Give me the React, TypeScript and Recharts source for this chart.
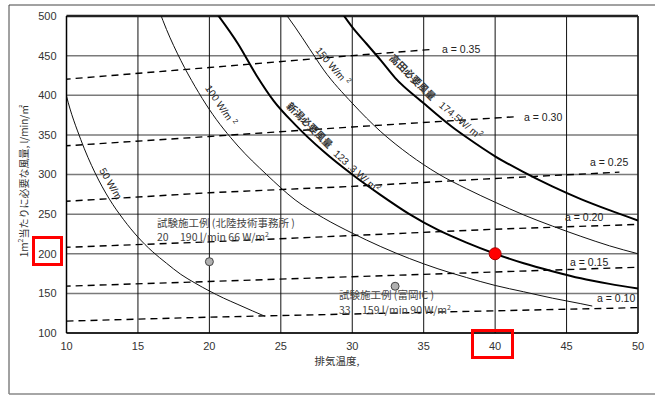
import React from 'react';
import { ComposedChart, Line, Scatter, XAxis, YAxis, CartesianGrid, ReferenceLine } from 'recharts';

const xTicks = [10, 15, 20, 25, 30, 35, 40, 45, 50];
const yTicks = [100, 150, 200, 250, 300, 350, 400, 450, 500];

// W/m2 curves (exhaust temp x, airflow y)
const w50 = [
  { x: 9.7, y: 422 }, { x: 10, y: 399 }, { x: 11, y: 344 }, { x: 12, y: 302 }, { x: 13, y: 269 },
  { x: 14, y: 243 }, { x: 15, y: 221 }, { x: 16, y: 203 }, { x: 17, y: 188 }, { x: 18, y: 174 },
  { x: 19, y: 163 }, { x: 20, y: 153 }, { x: 21, y: 144 }, { x: 22, y: 136 }, { x: 23, y: 128 },
  { x: 23.9, y: 121 },
];
const w100 = [
  { x: 16.5, y: 506 }, { x: 17, y: 483 }, { x: 18, y: 444 }, { x: 19, y: 411 }, { x: 20, y: 382 },
  { x: 22, y: 336 }, { x: 24, y: 300 }, { x: 26, y: 268 }, { x: 28, y: 245 }, { x: 30, y: 226 },
  { x: 32, y: 209 }, { x: 34, y: 194 }, { x: 36, y: 181 }, { x: 38, y: 170 }, { x: 40, y: 160 },
  { x: 42, y: 152 }, { x: 44, y: 144 }, { x: 46, y: 137 }, { x: 46.8, y: 134 },
];
const w150 = [
  { x: 25.2, y: 506 }, { x: 26, y: 486 }, { x: 27, y: 459 }, { x: 28, y: 432 }, { x: 30, y: 390 },
  { x: 32, y: 354 }, { x: 34, y: 325 }, { x: 36, y: 301 }, { x: 38, y: 282 }, { x: 40, y: 265 },
  { x: 42, y: 249 }, { x: 44, y: 235 }, { x: 46, y: 222 }, { x: 48, y: 210 }, { x: 50, y: 200 },
];
const w123 = [
  { x: 20.4, y: 506 }, { x: 22, y: 465 }, { x: 23.3, y: 425 }, { x: 24.5, y: 393 }, { x: 26, y: 363 },
  { x: 28, y: 329 }, { x: 30, y: 300 }, { x: 32, y: 274 }, { x: 34, y: 250 }, { x: 36, y: 230 },
  { x: 38, y: 214 }, { x: 40, y: 200 }, { x: 42, y: 188 }, { x: 44, y: 178 }, { x: 46, y: 169 },
  { x: 48, y: 162 }, { x: 50, y: 156 },
];
const w174 = [
  { x: 29.2, y: 506 }, { x: 30, y: 486 }, { x: 31, y: 465 }, { x: 32, y: 444 }, { x: 33, y: 422 },
  { x: 35, y: 390 }, { x: 37, y: 360 }, { x: 38, y: 347 }, { x: 40, y: 323 }, { x: 42, y: 303 },
  { x: 44, y: 285 }, { x: 46, y: 269 }, { x: 48, y: 255 }, { x: 50, y: 242 },
];

// a = const dashed lines
const a35 = [{ x: 9.8, y: 420 }, { x: 20, y: 435 }, { x: 30, y: 450 }, { x: 35.7, y: 458 }];
const a30 = [{ x: 9.8, y: 336 }, { x: 20, y: 348 }, { x: 30, y: 360 }, { x: 41.5, y: 373 }];
const a25 = [{ x: 9.8, y: 266 }, { x: 20, y: 277 }, { x: 30, y: 285 }, { x: 40, y: 295 }, { x: 48.7, y: 303 }];
const a20 = [{ x: 9.8, y: 208 }, { x: 20, y: 215 }, { x: 30, y: 223 }, { x: 40, y: 231 }, { x: 50, y: 237 }];
const a15 = [{ x: 9.8, y: 159 }, { x: 20, y: 165 }, { x: 30, y: 171 }, { x: 40, y: 177 }, { x: 50, y: 183 }];
const a10 = [{ x: 10, y: 115 }, { x: 20, y: 120 }, { x: 30, y: 124 }, { x: 40, y: 128 }, { x: 50, y: 132 }];

const testPoints = [{ x: 20, y: 190 }, { x: 33, y: 159 }];
const target = [{ x: 40, y: 200 }];

const tickStyle = { fill: '#333', fontSize: 11, fontFamily: 'Liberation Sans, Arial, sans-serif' };
const jp = '"Noto Sans CJK JP", sans-serif';
const lat = 'Liberation Sans, Arial, sans-serif';

const Rot = ({ x, y, a, size = 10, fill = '#222', family = lat, weight = 400, children }: any) => (
  <text x={x} y={y} transform={`rotate(${a} ${x} ${y})`} textAnchor="middle" dominantBaseline="middle"
    fontSize={size} fill={fill} fontFamily={family} fontWeight={weight}>
    {children}
  </text>
);

const Sup = ({ children }: any) => <tspan fontSize="7" dy="-4">{children}</tspan>;

const App = () => {
  return (
    <div style={{ position: 'absolute', left: 0, top: 0, width: 655, height: 396, background: '#fff' }}>
      <ComposedChart width={655} height={396} margin={{ top: 16, right: 17, bottom: 33, left: 0 }}>
        <CartesianGrid vertical={false} stroke="#7a7a7a" strokeWidth={1.5} />
        <CartesianGrid horizontal={false} stroke="#111" strokeWidth={1} />
        <XAxis dataKey="x" type="number" domain={[10, 50]} ticks={xTicks} allowDataOverflow height={30}
          tick={tickStyle} tickLine={false} tickMargin={3} axisLine={{ stroke: '#000', strokeWidth: 1.5 }} />
        <YAxis type="number" domain={[100, 500]} ticks={yTicks} allowDataOverflow width={66.5}
          tick={tickStyle} tickLine={false} tickMargin={4} axisLine={{ stroke: '#000', strokeWidth: 1.5 }} />
        <ReferenceLine y={500} stroke="#222" strokeWidth={2.5} />
        <ReferenceLine x={50} stroke="#222" strokeWidth={1.5} />

        <Line data={a35} dataKey="y" type="linear" stroke="#000" strokeWidth={1.4} strokeDasharray="7 5" dot={false} isAnimationActive={false} />
        <Line data={a30} dataKey="y" type="linear" stroke="#000" strokeWidth={1.4} strokeDasharray="7 5" dot={false} isAnimationActive={false} />
        <Line data={a25} dataKey="y" type="linear" stroke="#000" strokeWidth={1.4} strokeDasharray="7 5" dot={false} isAnimationActive={false} />
        <Line data={a20} dataKey="y" type="linear" stroke="#000" strokeWidth={1.4} strokeDasharray="7 5" dot={false} isAnimationActive={false} />
        <Line data={a15} dataKey="y" type="linear" stroke="#000" strokeWidth={1.4} strokeDasharray="7 5" dot={false} isAnimationActive={false} />
        <Line data={a10} dataKey="y" type="linear" stroke="#000" strokeWidth={1.4} strokeDasharray="7 5" dot={false} isAnimationActive={false} />

        <Line data={w50} dataKey="y" type="monotone" stroke="#111" strokeWidth={1} dot={false} isAnimationActive={false} />
        <Line data={w100} dataKey="y" type="monotone" stroke="#111" strokeWidth={1} dot={false} isAnimationActive={false} />
        <Line data={w150} dataKey="y" type="monotone" stroke="#111" strokeWidth={1} dot={false} isAnimationActive={false} />
        <Line data={w123} dataKey="y" type="monotone" stroke="#000" strokeWidth={2} dot={false} isAnimationActive={false} />
        <Line data={w174} dataKey="y" type="monotone" stroke="#000" strokeWidth={2} dot={false} isAnimationActive={false} />

        <Scatter data={testPoints} dataKey="y" isAnimationActive={false}
          shape={(p: any) => <circle cx={p.cx} cy={p.cy} r={4} fill="#b0b0b0" stroke="#444" strokeWidth={1} />} />
        <Scatter data={target} dataKey="y" isAnimationActive={false}
          shape={(p: any) => <circle cx={p.cx} cy={p.cy} r={6} fill="#f00" stroke="#a00" strokeWidth={1} />} />
      </ComposedChart>

      <svg width={655} height={396} style={{ position: 'absolute', left: 0, top: 0, pointerEvents: 'none' }}>
        <path d="M9 394 L9 5 L655 5" fill="none" stroke="#444" strokeWidth={1} />
        <line x1={9} y1={394} x2={655} y2={394} stroke="#888" strokeWidth={1.5} />

        <text x={25} y={181} transform="rotate(-90 25 181)" textAnchor="middle" dominantBaseline="middle"
          fontSize={10} fill="#333" fontFamily={jp}>
          1m<Sup>2</Sup><tspan dy="4">当たりに必要な風量, l/min/㎡</tspan>
        </text>
        <text x={337} y={365} textAnchor="middle" fontSize={10.5} fill="#333" fontFamily={jp}>排気温度,</text>

        <Rot x={110} y={184} a={60}>50 W/m</Rot>
        <Rot x={220} y={106} a={56}>100 W/m <Sup>2</Sup></Rot>
        <Rot x={332} y={67} a={50}>150 W/m <Sup>2</Sup></Rot>
        <Rot x={309} y={126} a={45} family={jp} weight={700} fill="#333">新潟必要風量</Rot>
        <Rot x={356} y={172} a={42}>123 .3 W/ m<Sup>2</Sup></Rot>
        <Rot x={412} y={78} a={45} family={jp} weight={700} fill="#333">高田必要風量</Rot>
        <Rot x={460} y={121} a={40}>174.5W/ m<Sup>2</Sup></Rot>

        <g fontSize={10.5} fill="#222" fontFamily={lat}>
          <text x={442} y={53}>a = 0.35</text>
          <text x={524} y={121}>a = 0.30</text>
          <text x={590} y={166}>a = 0.25</text>
          <text x={565} y={221}>a = 0.20</text>
          <text x={570} y={266}>a = 0.15</text>
          <text x={597} y={302}>a = 0.10</text>
        </g>

        <g fontSize={10.5} fill="#444" fontFamily={jp}>
          <text x={157} y={227}>試験施工例 (北陸技術事務所 )</text>
          <text x={157} y={241}>20</text>
          <text x={180} y={241}>190 l/min 66 W/m<Sup>2</Sup></text>
          <text x={339} y={299}>試験施工例 (富岡IC )</text>
          <text x={339} y={314}>33</text>
          <text x={362} y={314}>159 l/min 90 W/m<Sup>2</Sup></text>
        </g>

        <rect x={33.5} y={237.5} width={28} height={27} fill="none" stroke="#f00" strokeWidth={3} />
        <rect x={472.5} y={330.5} width={40} height={27} fill="none" stroke="#f00" strokeWidth={3} />
      </svg>
    </div>
  );
};

export default App;
